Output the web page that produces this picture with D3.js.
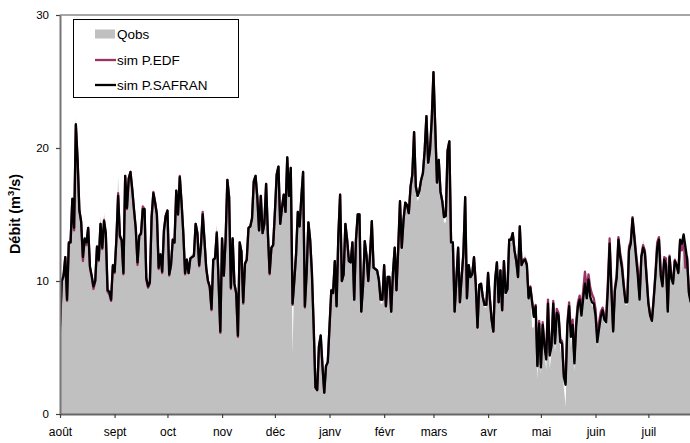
<!DOCTYPE html>
<html>
<head>
<meta charset="utf-8">
<script src="https://cdn.jsdelivr.net/npm/d3@7"></script>
<style>
  html, body { margin: 0; padding: 0; background: #fff; }
  svg { display: block; font-family: "Liberation Sans", Arial, sans-serif; }
</style>
</head>
<body>
<svg id="chart" width="690" height="443"></svg>
<script>
// Daily discharge (m3/s), hydrological year starting 1 August
const monthLabels = ["août", "sept", "oct", "nov", "déc", "janv", "févr", "mars", "avr", "mai", "juin", "juil"];
const monthStarts = [0, 31, 61, 92, 122, 153, 184, 212, 243, 273, 304, 334];
const yTicks = [0, 10, 20, 30];
const seriesNames = ["Qobs", "sim P.EDF", "sim P.SAFRAN"];

const simSafran = [
  6.6, 10.0, 10.4, 11.8, 8.6, 12.9, 12.9, 16.2, 14.0, 21.8,
  19.1, 15.3, 14.5, 11.8, 13.2, 12.9, 14.0, 11.1, 10.4, 9.6,
  10.0, 12.6, 11.6, 14.3, 12.5, 14.5, 13.6, 9.3, 9.2, 8.6,
  11.2, 10.7, 13.1, 16.4, 13.4, 13.1, 10.6, 17.9, 15.5, 17.7,
  18.2, 16.9, 15.4, 14.0, 11.4, 13.4, 13.6, 15.4, 15.4, 10.2,
  9.6, 9.9, 14.8, 16.6, 15.9, 15.0, 11.0, 12.0, 10.7, 13.8,
  14.9, 15.3, 10.5, 11.2, 13.1, 12.9, 16.8, 15.0, 17.8, 15.9,
  13.6, 10.6, 11.6, 10.6, 11.7, 11.8, 11.9, 14.3, 13.6, 11.2,
  12.6, 15.0, 13.1, 11.0, 10.0, 9.6, 7.9, 11.6, 11.7, 13.6,
  10.1, 6.2, 13.2, 10.4, 13.1, 17.6, 16.3, 9.5, 13.2, 9.8,
  9.1, 5.9, 12.9, 12.2, 8.4, 11.3, 11.6, 14.0, 14.1, 14.7,
  17.5, 17.9, 16.3, 13.8, 16.4, 13.6, 14.3, 17.3, 13.6, 10.6,
  12.5, 12.7, 15.2, 18.0, 18.6, 14.3, 15.5, 16.5, 15.2, 19.3,
  16.4, 18.5, 8.3, 10.0, 12.0, 15.2, 14.1, 16.3, 18.2, 8.1,
  10.6, 14.4, 13.1, 10.6, 6.6, 2.0, 1.8, 5.1, 5.9, 3.6,
  1.6, 3.6, 3.9, 6.6, 9.3, 9.1, 11.5, 8.1, 13.4, 16.5,
  10.0, 10.5, 14.3, 13.1, 11.5, 11.4, 12.9, 8.6, 13.1, 15.0,
  15.0, 7.7, 9.6, 13.0, 11.9, 10.0, 12.0, 14.5, 11.0, 10.9,
  10.8, 10.1, 8.6, 8.6, 11.2, 8.1, 10.3, 10.3, 7.7, 10.6,
  12.5, 9.3, 12.5, 16.0, 12.5, 14.6, 15.9, 15.7, 15.1, 17.1,
  18.0, 21.2, 17.1, 16.4, 16.8, 17.6, 18.1, 19.8, 22.4, 18.9,
  19.8, 22.1, 25.7, 21.6, 17.4, 19.1, 16.7, 16.0, 14.8, 14.9,
  19.8, 20.5, 12.9, 12.9, 7.7, 10.1, 12.5, 8.4, 10.3, 12.1,
  16.3, 8.7, 11.2, 10.3, 10.5, 11.8, 9.8, 6.5, 9.7, 9.8,
  8.8, 8.2, 8.2, 10.6, 8.7, 7.1, 6.2, 10.1, 11.4, 8.4,
  10.8, 7.8, 11.5, 9.1, 9.4, 13.1, 13.1, 13.6, 12.3, 11.5,
  10.3, 14.1, 11.2, 11.5, 11.6, 11.2, 8.7, 9.5, 8.4, 7.3,
  8.1, 3.6, 6.8, 3.5, 6.7, 5.1, 4.1, 8.3, 4.4, 5.1,
  8.3, 5.3, 7.6, 7.4, 5.4, 5.3, 2.8, 2.2, 6.6, 8.1,
  5.8, 6.7, 3.8, 6.6, 8.1, 8.6, 7.4, 8.7, 9.8, 8.7,
  10.1, 8.8, 8.4, 8.3, 7.4, 5.4, 6.4, 7.3, 7.8, 7.1,
  6.9, 9.4, 12.8, 9.3, 6.2, 9.3, 10.2, 13.1, 11.8, 11.0,
  9.6, 8.4, 8.4, 12.3, 12.8, 14.7, 13.3, 11.8, 10.4, 8.6,
  11.8, 12.5, 12.1, 10.2, 8.3, 7.4, 7.0, 8.6, 10.4, 12.5,
  13.1, 10.4, 9.6, 11.6, 11.2, 7.7, 11.8, 10.2, 9.8, 11.5,
  11.2, 10.6, 13.1, 12.8, 13.5, 12.6, 11.6, 9.1, 8.4
];

const simEdf = [
  6.2, 10.0, 10.3, 11.8, 8.5, 12.8, 12.9, 16.1, 13.8, 21.7,
  19.1, 15.3, 14.4, 11.5, 13.1, 12.7, 14.0, 11.0, 10.3, 9.4,
  10.0, 12.5, 11.5, 14.3, 12.4, 14.6, 13.6, 9.2, 9.0, 8.5,
  11.1, 10.6, 13.1, 16.6, 13.3, 13.0, 10.5, 17.9, 15.4, 17.7,
  18.2, 16.9, 15.3, 13.9, 11.2, 13.4, 13.5, 15.6, 15.4, 10.1,
  9.5, 9.8, 14.8, 16.7, 15.9, 15.0, 10.9, 12.0, 10.6, 13.8,
  14.9, 15.3, 10.4, 11.2, 13.1, 12.9, 16.8, 15.0, 17.9, 15.9,
  13.6, 10.5, 11.6, 10.6, 11.7, 11.8, 11.9, 14.3, 13.6, 11.1,
  12.6, 15.2, 13.1, 10.9, 10.0, 9.5, 7.8, 11.6, 11.7, 13.7,
  10.0, 6.1, 13.2, 10.4, 13.1, 17.6, 16.3, 9.4, 13.2, 9.8,
  9.1, 5.8, 12.9, 12.2, 8.3, 11.3, 11.6, 14.0, 14.1, 14.7,
  17.5, 17.9, 16.3, 13.8, 16.4, 13.6, 14.3, 17.3, 13.6, 10.5,
  12.5, 12.7, 15.2, 18.0, 18.6, 14.3, 15.5, 16.5, 15.2, 19.3,
  16.4, 18.5, 8.2, 10.0, 12.0, 15.2, 14.1, 16.3, 18.2, 8.0,
  10.6, 14.4, 13.1, 10.6, 6.6, 2.0, 1.8, 5.1, 5.9, 3.6,
  1.6, 3.6, 3.9, 6.6, 9.3, 9.1, 11.5, 8.1, 13.4, 16.5,
  10.0, 10.5, 14.3, 13.1, 11.5, 11.4, 12.9, 8.6, 13.1, 15.0,
  15.0, 7.7, 9.6, 13.0, 11.9, 10.0, 12.0, 14.5, 11.0, 10.9,
  10.8, 10.1, 8.6, 8.6, 11.2, 8.1, 10.3, 10.3, 7.7, 10.6,
  12.5, 9.3, 12.5, 16.0, 12.5, 14.6, 15.9, 15.7, 15.1, 17.1,
  18.0, 21.2, 17.1, 16.4, 16.8, 17.6, 18.1, 19.8, 22.4, 18.9,
  19.8, 22.1, 25.7, 21.6, 17.4, 19.1, 16.7, 16.0, 14.8, 14.9,
  19.8, 20.5, 12.9, 12.9, 7.7, 10.1, 12.5, 8.4, 10.3, 12.1,
  16.3, 8.7, 11.2, 10.3, 10.5, 11.8, 9.8, 6.5, 9.7, 9.8,
  8.8, 8.2, 8.2, 10.6, 8.7, 7.1, 6.2, 10.1, 11.4, 8.4,
  10.8, 7.8, 11.5, 9.1, 9.4, 13.1, 13.1, 13.6, 12.3, 11.5,
  10.3, 14.1, 11.2, 11.6, 11.7, 11.3, 8.8, 9.6, 8.5, 7.4,
  8.2, 3.7, 7.0, 3.7, 6.9, 5.3, 4.3, 8.6, 4.6, 5.3,
  8.5, 5.6, 7.9, 7.6, 5.6, 5.5, 3.0, 2.4, 6.9, 8.4,
  6.2, 7.1, 4.0, 6.9, 8.4, 8.9, 7.8, 9.3, 10.7, 9.3,
  10.5, 9.5, 9.0, 8.7, 7.9, 5.8, 6.9, 7.7, 8.0, 7.4,
  7.2, 9.9, 13.2, 9.6, 6.3, 9.5, 10.5, 13.3, 12.1, 11.3,
  9.8, 8.5, 8.5, 12.6, 13.0, 14.8, 13.5, 12.1, 10.9, 8.8,
  11.9, 12.7, 12.3, 10.4, 8.4, 7.5, 7.1, 8.7, 10.6, 12.9,
  13.3, 10.9, 9.8, 11.8, 11.7, 7.9, 11.9, 10.4, 10.0, 11.6,
  11.2, 10.7, 13.0, 12.3, 13.4, 11.0, 11.8, 9.2, 8.5
];

const qObs = [
  6.3, 10.5, 10.6, 11.9, 8.9, 13.0, 13.5, 16.4, 14.3, 22.3,
  19.4, 15.5, 14.8, 12.0, 13.4, 13.1, 14.2, 11.3, 10.6, 9.9,
  10.2, 12.8, 11.9, 14.9, 12.7, 15.1, 13.9, 9.6, 9.4, 8.9,
  11.4, 11.0, 13.3, 17.9, 13.6, 13.4, 10.8, 18.0, 15.7, 17.8,
  18.3, 17.0, 15.6, 14.2, 11.7, 13.6, 13.8, 15.5, 15.6, 10.5,
  9.9, 10.2, 15.0, 16.7, 16.0, 15.2, 11.3, 12.2, 11.0, 14.0,
  15.1, 15.4, 10.8, 11.4, 13.3, 13.1, 16.9, 15.2, 17.9, 16.0,
  13.8, 10.9, 11.8, 10.9, 11.9, 12.0, 12.1, 14.5, 13.8, 11.5,
  12.8, 15.1, 13.3, 11.3, 10.3, 9.9, 8.3, 11.8, 11.9, 14.3,
  10.3, 6.5, 13.3, 10.6, 13.2, 17.7, 16.4, 9.8, 13.3, 10.0,
  9.3, 6.2, 13.0, 12.4, 8.7, 11.5, 11.8, 14.1, 14.2, 14.8,
  17.6, 18.0, 16.4, 14.0, 16.5, 13.8, 14.4, 17.4, 13.8, 10.9,
  12.7, 12.9, 15.3, 18.1, 18.7, 14.5, 15.6, 16.6, 15.4, 19.4,
  16.6, 18.6, 4.6, 10.2, 12.2, 15.3, 14.3, 16.4, 18.3, 8.4,
  10.8, 14.5, 13.3, 10.8, 6.9, 2.3, 2.0, 5.3, 6.1, 3.9,
  1.9, 3.8, 4.1, 6.9, 9.5, 9.3, 11.7, 8.4, 13.5, 16.6,
  10.2, 10.7, 14.4, 13.3, 11.7, 11.6, 13.0, 8.5, 13.2, 15.1,
  15.1, 7.9, 9.8, 13.1, 12.1, 10.2, 12.1, 14.6, 11.2, 11.0,
  10.7, 10.0, 8.3, 8.3, 11.0, 7.9, 10.1, 10.1, 7.4, 10.4,
  12.3, 9.1, 12.3, 15.7, 12.3, 14.3, 15.6, 15.4, 14.9, 16.8,
  17.7, 20.8, 16.8, 16.0, 16.4, 17.3, 17.8, 19.5, 22.0, 18.6,
  19.5, 21.8, 25.2, 21.2, 17.1, 18.8, 16.4, 15.7, 14.4, 14.4,
  19.5, 20.2, 12.7, 12.7, 7.6, 9.9, 12.3, 8.3, 10.1, 11.9,
  16.0, 8.6, 11.0, 10.2, 10.3, 11.6, 9.6, 6.4, 9.5, 9.6,
  8.6, 8.0, 8.0, 10.4, 8.5, 6.9, 6.0, 9.9, 11.2, 8.2,
  10.6, 7.6, 11.3, 8.9, 9.2, 12.9, 12.8, 13.4, 12.1, 11.3,
  10.1, 13.9, 11.1, 11.4, 12.0, 11.1, 9.0, 9.4, 6.5, 6.5,
  7.4, 2.6, 6.2, 3.0, 6.1, 4.6, 3.3, 7.6, 3.4, 4.6,
  7.6, 4.6, 7.0, 6.8, 4.8, 4.3, 2.0, 0.6, 5.6, 7.6,
  5.0, 6.2, 3.2, 6.2, 7.7, 8.2, 7.1, 8.4, 9.5, 8.4,
  9.8, 8.5, 8.1, 8.0, 7.1, 5.1, 6.1, 7.0, 7.6, 6.9,
  6.7, 9.2, 12.6, 9.1, 6.0, 9.1, 10.0, 12.9, 11.6, 10.8,
  9.4, 8.2, 8.2, 12.1, 12.6, 14.5, 13.2, 11.7, 10.3, 8.5,
  11.7, 13.1, 12.2, 10.1, 8.2, 7.3, 6.9, 8.5, 10.3, 13.3,
  13.0, 10.3, 9.5, 11.5, 11.1, 7.6, 11.7, 10.1, 9.7, 11.4,
  11.1, 10.5, 12.9, 10.6, 13.3, 12.4, 12.3, 9.2, 8.5
];

const svg = d3.select("#chart");
const W = 690, H = 443;
const plot = { left: 60, right: 703, top: 15, bottom: 414 };

const x = d3.scaleLinear().domain([0, 365]).range([plot.left, plot.right]);
const y = d3.scaleLinear().domain([0, 30]).range([plot.bottom, plot.top]);

svg.append("defs").append("clipPath").attr("id", "plotClip")
  .append("rect")
  .attr("x", plot.left).attr("y", plot.top - 2)
  .attr("width", W - plot.left).attr("height", plot.bottom - plot.top + 2);

const g = svg.append("g").attr("clip-path", "url(#plotClip)");

// observed discharge as a filled area
const area = d3.area()
  .x((d, i) => x(i))
  .y0(y(0))
  .y1(d => y(d));
g.append("path").datum(qObs)
  .attr("d", area)
  .attr("fill", "#c0c0c0");

const line = d3.line()
  .x((d, i) => x(i))
  .y(d => y(d));

g.append("path").datum(simEdf)
  .attr("d", line)
  .attr("fill", "none")
  .attr("stroke", "#993366")
  .attr("stroke-width", 2.3)
  .attr("stroke-linejoin", "round");

g.append("path").datum(simSafran)
  .attr("d", line)
  .attr("fill", "none")
  .attr("stroke", "#000")
  .attr("stroke-width", 2.3)
  .attr("stroke-linejoin", "round");

// top border of the plot area
svg.append("line")
  .attr("x1", plot.left).attr("x2", W)
  .attr("y1", y(30)).attr("y2", y(30))
  .attr("stroke", "#a6a6a6").attr("stroke-width", 2);

// y axis
const yAxis = svg.append("g")
  .attr("transform", `translate(${plot.left},0)`)
  .call(d3.axisLeft(y).tickValues(yTicks).tickSize(4).tickSizeOuter(0).tickPadding(7));
yAxis.select(".domain").attr("stroke", "#777").attr("stroke-width", 2);
yAxis.selectAll(".tick line").attr("stroke", "#444").attr("stroke-width", 1.2);
yAxis.selectAll(".tick text")
  .attr("font-size", 11.5)
  .attr("fill", "#000")
  .attr("font-family", "Liberation Sans, Arial, sans-serif");

// x axis with month boundaries
const xAxis = svg.append("g")
  .attr("transform", `translate(0,${plot.bottom})`)
  .call(d3.axisBottom(x)
    .tickValues(monthStarts)
    .tickFormat((d, i) => monthLabels[i])
    .tickSize(4).tickSizeOuter(0).tickPadding(9));
xAxis.select(".domain").attr("stroke", "#666").attr("stroke-width", 2.2);
xAxis.selectAll(".tick line").attr("stroke", "#444").attr("stroke-width", 1.2);
xAxis.selectAll(".tick text")
  .attr("font-size", 12)
  .attr("fill", "#000")
  .attr("font-family", "Liberation Sans, Arial, sans-serif");

// y axis title
const yTitle = svg.append("text")
  .attr("transform", "translate(20,214) rotate(-90)")
  .attr("text-anchor", "middle")
  .attr("font-size", 14.5)
  .attr("font-weight", "bold")
  .attr("fill", "#000");
yTitle.append("tspan").text("Débit (m");
yTitle.append("tspan").attr("font-size", 9.5).attr("dy", -6).text("3");
yTitle.append("tspan").attr("dy", 6).text("/s)");

// legend
const legend = svg.append("g");
legend.append("rect")
  .attr("x", 73.5).attr("y", 19.5).attr("width", 165).attr("height", 78)
  .attr("fill", "#fff").attr("stroke", "#000").attr("stroke-width", 1);

const legendY = [34, 60, 85];
legend.append("rect")
  .attr("x", 95).attr("y", legendY[0] - 4.5).attr("width", 20).attr("height", 9)
  .attr("fill", "#c0c0c0");
legend.append("line")
  .attr("x1", 95).attr("x2", 116).attr("y1", legendY[1]).attr("y2", legendY[1])
  .attr("stroke", "#993366").attr("stroke-width", 2.3);
legend.append("line")
  .attr("x1", 95).attr("x2", 116).attr("y1", legendY[2]).attr("y2", legendY[2])
  .attr("stroke", "#000").attr("stroke-width", 2.3);
seriesNames.forEach((name, i) => {
  legend.append("text")
    .attr("x", 117).attr("y", legendY[i])
    .attr("dy", "0.36em")
    .attr("font-size", 13.5)
    .attr("fill", "#000")
    .text(name);
});
</script>
</body>
</html>
